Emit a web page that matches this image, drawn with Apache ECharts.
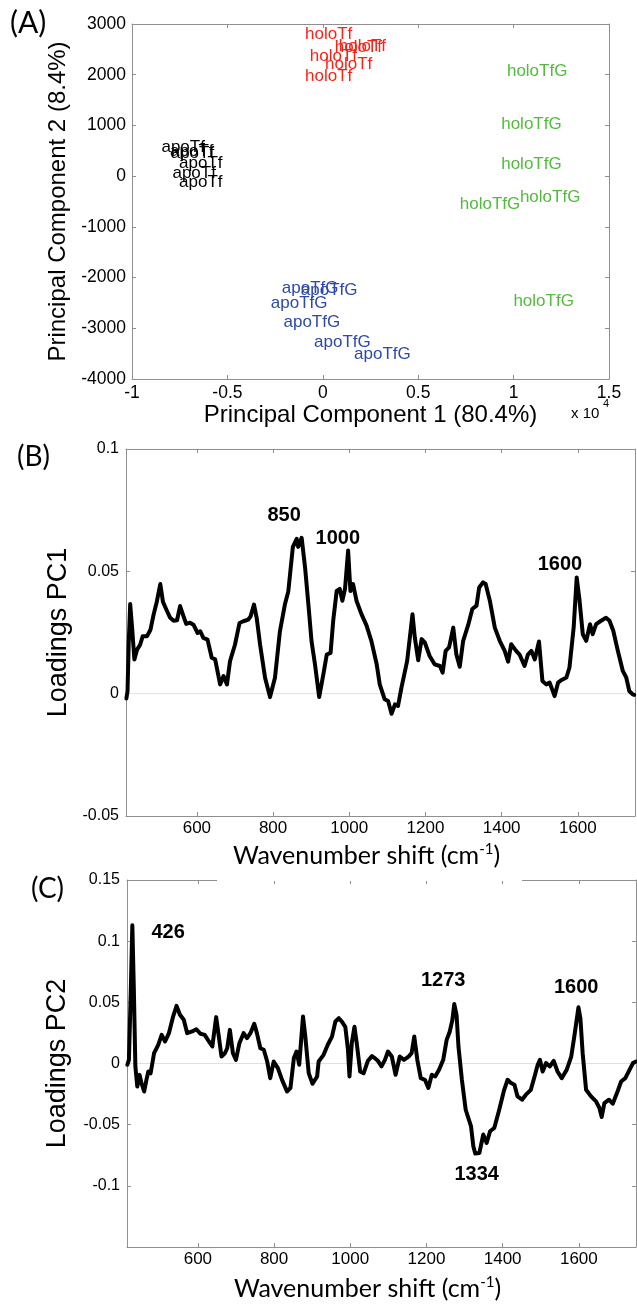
<!DOCTYPE html>
<html><head><meta charset="utf-8">
<script src="https://cdn.jsdelivr.net/npm/echarts@6/dist/echarts.min.js"></script>
<style>html,body{margin:0;padding:0;background:#fff}#c{width:637px;height:1304px}</style>
</head><body><div id="c"></div>
<script>
// ---------- Panel A: PCA scores (PC1 in raw units, axis shown x10^4) ----------
const apoTfX   = [-8458, -8007, -7971, -7535, -7881, -7535];
const apoTfY   = [559, 486, 441, 256, 47, -118];
const holoTfX  = [-928, 630, 840, -680, 120, -928];
const holoTfY  = [2790, 2540, 2560, 2360, 2210, 1970];
const apoTfGX  = [-2150, -1154, -2727, -2060, -456, 1641];
const apoTfGY  = [-2217, -2250, -2500, -2874, -3268, -3516];
const holoTfGX = [9650, 9350, 9350, 7180, 10330, 9990];
const holoTfGY = [2060, 1020, 230, -550, -410, -2460];
const groupNames = ['apoTf', 'holoTf', 'apoTfG', 'holoTfG'];

// ---------- Panel B: PC1 loadings ----------
const pc1Wave = [415,418,421,425,430,436,443,451,458,469,478,486,495,504,511,521,530,539,548,556,565,572,582,591,602,609,617,628,639,648,661,670,679,687,700,712,722,735,741,750,757,766,779,792,805,818,831,840,852,862,866,875,884,893,901,910,921,932,941,951,958,967,975,982,989,997,1003,1010,1019,1032,1045,1058,1072,1080,1093,1102,1111,1120,1128,1137,1152,1166,1172,1181,1190,1198,1211,1224,1238,1245,1253,1262,1273,1281,1290,1299,1312,1323,1334,1341,1351,1358,1369,1382,1395,1408,1417,1425,1438,1447,1460,1469,1478,1487,1498,1507,1517,1526,1539,1548,1556,1570,1578,1589,1597,1604,1613,1622,1632,1639,1648,1661,1674,1683,1693,1705,1718,1727,1735,1744,1748];
const pc1Load = [-0.002,0.001,0.02,0.0366,0.027,0.014,0.018,0.020,0.0235,0.0235,0.026,0.032,0.0377,0.0448,0.0375,0.034,0.031,0.0298,0.030,0.0358,0.0316,0.0285,0.029,0.0282,0.0248,0.0255,0.0228,0.0221,0.0147,0.014,0.0038,0.0072,0.0038,0.0133,0.020,0.0289,0.0296,0.0303,0.0316,0.0364,0.031,0.020,0.0065,-0.0014,0.0065,0.0255,0.0364,0.0418,0.060,0.0633,0.0600,0.0637,0.0516,0.036,0.0214,0.012,-0.0014,0.0079,0.016,0.0167,0.03,0.0420,0.0428,0.038,0.043,0.0585,0.042,0.0448,0.038,0.0325,0.028,0.0216,0.012,0.0038,-0.0023,-0.003,-0.0082,-0.0044,-0.005,0.0025,0.0134,0.0325,0.023,0.0137,0.0223,0.021,0.0154,0.012,0.0113,0.0086,0.0175,0.0189,0.027,0.0161,0.011,0.0216,0.028,0.0346,0.036,0.0434,0.0455,0.0448,0.038,0.027,0.0216,0.0175,0.0131,0.0202,0.0175,0.016,0.0113,0.016,0.0175,0.014,0.0213,0.0052,0.0038,0.0045,-0.001,0.0045,0.0055,0.0066,0.0107,0.027,0.0475,0.0387,0.0243,0.0216,0.0284,0.0243,0.0284,0.0298,0.031,0.0298,0.0257,0.0175,0.0093,0.0066,0.0011,-0.0003,-0.0005];
const pc1PeakText = ['850', '1000', '1600'];

// ---------- Panel C: PC2 loadings ----------
const pc2Wave = [415,419,424,428,432,436,441,447,452,459,465,470,476,485,496,505,514,524,535,544,553,563,572,585,596,607,618,629,638,648,655,662,671,677,684,692,700,709,720,729,738,748,755,764,773,782,790,799,810,821,834,843,852,859,866,876,882,891,901,913,917,930,941,952,961,970,978,987,994,998,1004,1011,1017,1026,1035,1046,1057,1066,1073,1082,1091,1099,1109,1119,1130,1141,1153,1161,1168,1176,1185,1196,1205,1214,1223,1233,1244,1253,1261,1268,1273,1279,1284,1293,1303,1317,1323,1328,1339,1349,1358,1367,1378,1391,1404,1413,1422,1431,1439,1451,1461,1474,1485,1492,1498,1505,1514,1524,1534,1544,1555,1568,1580,1588,1599,1604,1610,1619,1632,1645,1654,1660,1667,1679,1689,1700,1711,1722,1733,1742,1750];
const pc2Load = [-0.001,0.003,0.060,0.113,0.060,-0.0025,-0.0188,-0.0093,-0.016,-0.0229,-0.0134,-0.0065,-0.008,0.0084,0.0153,0.0234,0.018,0.0248,0.0384,0.0471,0.0398,0.0357,0.0248,0.0262,0.028,0.0243,0.0234,0.018,0.0139,0.0379,0.022,0.0057,0.0084,0.0125,0.0275,0.0084,0.003,0.0166,0.0248,0.0207,0.0248,0.0324,0.0248,0.0125,0.0112,0.0016,-0.012,0.0016,-0.0038,-0.0134,-0.0229,-0.020,0.0044,0.0098,-0.001,0.0384,0.022,-0.008,-0.0166,-0.0106,0.0016,0.0071,0.0153,0.022,0.0343,0.037,0.0343,0.030,0.0112,-0.0106,0.0166,0.030,0.0166,-0.0065,-0.008,0.002,0.006,0.004,0.002,-0.0024,0.003,0.0098,0.0057,-0.0092,0.0057,0.003,0.0057,0.0084,0.022,0.003,-0.012,-0.0133,-0.020,-0.0092,-0.0106,-0.0052,0.003,0.0193,0.026,0.0356,0.0486,0.0397,0.0139,-0.0133,-0.0378,-0.0514,-0.0677,-0.0736,-0.0731,-0.0581,-0.065,-0.0554,-0.0527,-0.0378,-0.0215,-0.0133,-0.016,-0.0174,-0.0269,-0.0296,-0.0255,-0.0215,-0.0092,-0.0011,0.003,-0.0065,0.0003,-0.0024,0.0022,-0.0065,-0.012,-0.0052,0.0057,0.022,0.0459,0.037,0.0084,-0.0215,-0.0269,-0.031,-0.0364,-0.0437,-0.0323,-0.0296,-0.0329,-0.0242,-0.0147,-0.012,-0.0052,0.0003,0.0016];
const pc2PeakText = ['426', '1273', '1600', '1334'];

const waveTicks = [600, 800, 1000, 1200, 1400, 1600];

// ---------- layout / style (not data) ----------
const pc1PeakAnchor = [[829, 0.0728], [970, 0.0635], [1553, 0.0527]];
const pc2PeakAnchor = [[522, 0.107], [1244, 0.068], [1593, 0.0622], [1332, -0.0909]];
const WMIN = 414, WMAX = 1750;
const AX = '#8f8f8f';
const SANS = '"Liberation Sans", Arial, Helvetica, sans-serif';
const CAL = 'Lato, "Open Sans", sans-serif';
const zip = (a, b) => a.map((v, i) => [v, b[i]]);

function axPair(kind, gi, common, mainExtra) {
  const tickExtra = common.tickExtra || {};
  const c = Object.assign({}, common); delete c.tickExtra;
  const base = Object.assign({
    type: 'value', gridIndex: gi, scale: false,
    axisLine: { show: true, onZero: false, lineStyle: { color: AX, width: 1 } },
    splitLine: { show: false },
  }, c);
  const tick = Object.assign({ show: true, inside: true, length: 4, lineStyle: { color: AX } }, tickExtra);
  const main = Object.assign({}, base, { position: kind === 'x' ? 'bottom' : 'left', axisTick: tick }, mainExtra);
  const other = Object.assign({}, base, { position: kind === 'x' ? 'top' : 'right', axisLabel: { show: false }, axisTick: tick });
  return [main, other];
}

const waveName = {
  name: '{a|Wavenumber shift (cm}{s|-1}{a|)}', nameLocation: 'middle',
  nameTextStyle: { padding: [0, 28, 0, 0], rich: {
    a: { fontFamily: CAL, fontSize: 25, color: '#000', lineHeight: 28 },
    s: { fontFamily: CAL, fontSize: 15, color: '#000', verticalAlign: 'top', lineHeight: 28 } } }
};

const xAxes = [].concat(
  axPair('x', 0, { min: -10000, max: 15000, interval: 5000 }, {
    axisLabel: { color: '#000', fontFamily: SANS, fontSize: 17.5, margin: 5, formatter: v => String(v / 10000) },
    name: 'Principal Component 1 (80.4%)', nameLocation: 'middle', nameGap: 21,
    nameTextStyle: { color: '#000', fontFamily: SANS, fontSize: 24 }
  }),
  axPair('x', 1, { min: WMIN, max: WMAX, tickExtra: { customValues: waveTicks } }, Object.assign({
    axisLabel: { color: '#000', fontFamily: SANS, fontSize: 17, margin: 4, customValues: waveTicks, formatter: v => String(v) },
    nameGap: 26 }, waveName)),
  axPair('x', 2, { min: WMIN, max: WMAX, tickExtra: { customValues: waveTicks } }, Object.assign({
    axisLabel: { color: '#000', fontFamily: SANS, fontSize: 17, margin: 4, customValues: waveTicks, formatter: v => String(v) },
    nameGap: 28 }, waveName))
);

const yAxes = [].concat(
  axPair('y', 0, { min: -4000, max: 3000, interval: 1000 }, {
    axisLabel: { color: '#000', fontFamily: SANS, fontSize: 17.5, margin: 6, formatter: v => String(v) },
    name: 'Principal Component 2 (8.4%)', nameLocation: 'middle', nameGap: 57,
    nameTextStyle: { color: '#000', fontFamily: SANS, fontSize: 24 }
  }),
  axPair('y', 1, { min: -0.05, max: 0.1, interval: 0.05 }, {
    axisLabel: { color: '#000', fontFamily: SANS, fontSize: 16, margin: 7, formatter: v => String(+v.toFixed(2)) },
    name: 'Loadings PC1', nameLocation: 'middle', nameGap: 45,
    nameTextStyle: { color: '#000', fontFamily: SANS, fontSize: 27 }
  }),
  axPair('y', 2, { min: -0.15, max: 0.15, interval: 0.05 }, {
    axisLabel: { color: '#000', fontFamily: SANS, fontSize: 16, margin: 7, formatter: v => (v < -0.149 ? '' : String(+v.toFixed(2))) },
    name: 'Loadings PC2', nameLocation: 'middle', nameGap: 56,
    nameTextStyle: { color: '#000', fontFamily: SANS, fontSize: 27 }
  })
);

const groupColors = ['#000000', '#ff1f14', '#2d4aa6', '#52bb3c'];
const groupX = [apoTfX, holoTfX, apoTfGX, holoTfGX];
const groupY = [apoTfY, holoTfY, apoTfGY, holoTfGY];

const series = [];
groupNames.forEach((nm, i) => {
  series.push({
    type: 'scatter', name: nm, xAxisIndex: 0, yAxisIndex: 0,
    data: zip(groupX[i], groupY[i]), symbolSize: 0, silent: true,
    itemStyle: { opacity: 1, color: groupColors[i] },
    label: { show: true, position: 'right', distance: 0, formatter: '{a}', color: groupColors[i], fontFamily: SANS, fontSize: 17 },
    labelLayout: { hideOverlap: false }, clip: false
  });
});

function loadingSeries(xi, wave, load, anchors, texts) {
  return [
    { type: 'line', xAxisIndex: xi, yAxisIndex: xi, data: [[WMIN, 0], [WMAX, 0]], showSymbol: false, silent: true, z: 1,
      lineStyle: { color: '#e0e0e0', width: 1 } },
    { type: 'line', xAxisIndex: xi, yAxisIndex: xi, data: zip(wave, load), showSymbol: false, silent: true, z: 3,
      lineStyle: { color: '#000', width: 4, join: 'round', cap: 'round' } },
    { type: 'scatter', xAxisIndex: xi, yAxisIndex: xi, symbolSize: 0, silent: true, z: 4,
      itemStyle: { opacity: 1 },
      data: anchors.map((p, i) => ({ value: p, name: texts[i] })),
      label: { show: true, position: 'inside', formatter: '{b}', color: '#000', fontFamily: SANS, fontWeight: 'bold', fontSize: 20 } }
  ];
}
series.push(...loadingSeries(2, pc1Wave, pc1Load, pc1PeakAnchor, pc1PeakText));
series.push(...loadingSeries(4, pc2Wave, pc2Load, pc2PeakAnchor, pc2PeakText));

const option = {
  animation: false,
  backgroundColor: '#fff',
  grid: [
    { left: 132, top: 24, width: 477, height: 355 },
    { left: 126, top: 449, width: 509, height: 367 },
    { left: 127, top: 880, width: 509, height: 367 }
  ],
  xAxis: xAxes,
  yAxis: yAxes,
  series: series,
  graphic: [
    { type: 'text', left: 10, top: 8, style: { text: '(A)', font: '30px Lato', fill: '#000' } },
    { type: 'text', left: 17, top: 443, style: { text: '(B)', font: '28px Lato', fill: '#000' } },
    { type: 'text', left: 31, top: 875, style: { text: '(C)', font: '28px Lato', fill: '#000' } },
    { type: 'text', left: 571, top: 406, style: { text: 'x 10', font: '15px "Liberation Sans"', fill: '#000' } },
    { type: 'text', left: 603, top: 398, style: { text: '4', font: '11px "Liberation Sans"', fill: '#000' } },
    { type: 'rect', z: 100, shape: { x: 217, y: 878, width: 305, height: 3 }, style: { fill: '#fff' } }
  ]
};
const chart = echarts.init(document.getElementById('c'), null, { renderer: 'canvas' });
chart.setOption(option);
</script></body></html>
